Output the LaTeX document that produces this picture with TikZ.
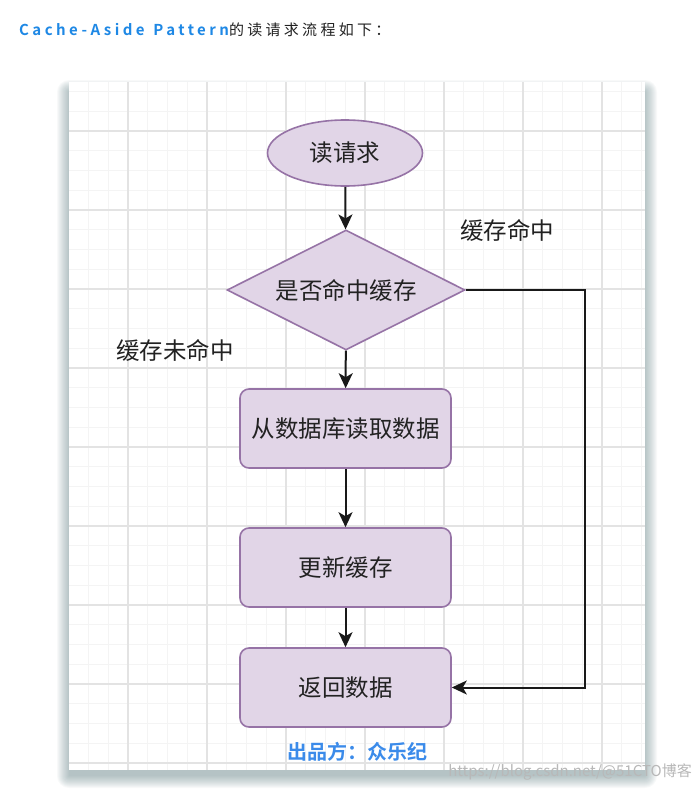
\documentclass[tikz,border=0pt]{standalone}
\usepackage{fontspec}
\setmainfont{Noto Sans CJK SC}
\newfontfamily\cjk{Noto Sans CJK SC}
\newfontfamily\cjkbold{Noto Sans CJK SC Bold}
\newfontfamily\titlefont[LetterSpace=22]{Noto Sans CJK SC}
\newfontfamily\titlebold[LetterSpace=23]{Noto Sans CJK SC Bold}
\usetikzlibrary{shapes.geometric,arrows.meta}
\definecolor{nodefill}{HTML}{E1D5E7}
\definecolor{nodedraw}{HTML}{9673A6}
\definecolor{gridminor}{HTML}{F4F4F4}
\definecolor{gridmajor}{HTML}{E3E3E3}
\definecolor{shadowcol}{HTML}{5F8286}
\definecolor{titleblue}{HTML}{1E88E5}
\definecolor{txt}{HTML}{222222}
\definecolor{signblue}{HTML}{3B8BEA}
\tikzset{
  shape base/.style={draw=nodedraw, fill=nodefill, line width=1.6pt, text=txt,
    font=\cjk\fontsize{23.5}{26}\selectfont, inner sep=0pt},
  term/.style={shape base, ellipse, minimum width=155pt, minimum height=66pt},
  dec/.style={shape base, diamond, aspect=2, minimum width=238pt, minimum height=120pt},
  proc/.style={shape base, rectangle, rounded corners=9pt, minimum width=211pt, minimum height=79pt},
  conn/.style={draw=black!90, line width=2pt, -{Stealth[length=15pt,width=14pt,inset=4pt]}},
  lbl/.style={text=txt, font=\cjk\fontsize{23.5}{26}\selectfont, inner sep=0pt},
  minorline/.style={draw=gridminor, line width=1pt},
  majorline/.style={draw=gridmajor, line width=1.3pt}
}
\begin{document}
\begin{tikzpicture}[x=1pt,y=-1pt]
\useasboundingbox (0,0) rectangle (700,790);
\fill[white] (0,0) rectangle (700,790);
% title
\node[anchor=west, inner sep=0pt] (title) at (19,30)
  {\fontsize{15}{17}\selectfont\textcolor{titleblue}{\titlebold Cache-Aside\hspace{2pt} Pattern}\textcolor{txt}{\titlefont 的读请求流程如下：}};
% panel shadow (soft, layered)
\foreach \k in {0,...,12} {
  \fill[shadowcol, opacity=0.045, rounded corners=\k pt] (69-\k, 92-\k) rectangle (645+\k, 776+\k);
}
% panel
\fill[white] (69,82) rectangle (645,770);
\begin{scope}
\clip (69,82) rectangle (645,770);
\foreach \i in {-3,...,26} {
  \draw[minorline] (128+\i*19.75,82) -- (128+\i*19.75,770);
}
\foreach \i in {-3,...,32} {
  \draw[minorline] (69,131+\i*19.75) -- (645,131+\i*19.75);
}
\foreach \i in {-1,...,7} {
  \draw[majorline] (128+\i*79,82) -- (128+\i*79,770);
}
\foreach \i in {-1,...,8} {
  \draw[majorline] (69,131+\i*79) -- (645,131+\i*79);
}
\end{scope}
% nodes
\node[term] (read) at (345,153) {读请求};
\node[dec] (hit) at (346,290) {是否命中缓存};
\node[proc] (db) at (345.5,428.5) {从数据库读取数据};
\node[proc] (upd) at (345.5,567.5) {更新缓存};
\node[proc] (ret) at (345.5,687.5) {返回数据};
\node[lbl] (hitlbl) at (507,230) {缓存命中};
\node[lbl] (misslbl) at (175,350) {缓存未命中};
% connectors
\draw[conn] (read) -- (hit);
\draw[conn] (hit) -- (db);
\draw[conn] (db) -- (upd);
\draw[conn] (upd) -- (ret);
\coordinate (corner) at (585,290);
\draw[conn] (hit.east) -- (corner) |- (ret.east);
% signature
\node[inner sep=0pt, text=signblue, font=\cjkbold\fontsize{20}{22}\selectfont] (sign) at (357,752) {出品方：众乐纪};
% watermark
\node[inner sep=0pt, text=black!28, font=\cjk\fontsize{15}{17}\selectfont] (wm) at (570,772) {https://blog.csdn.net/@51CTO博客};
\end{tikzpicture}
\end{document}
